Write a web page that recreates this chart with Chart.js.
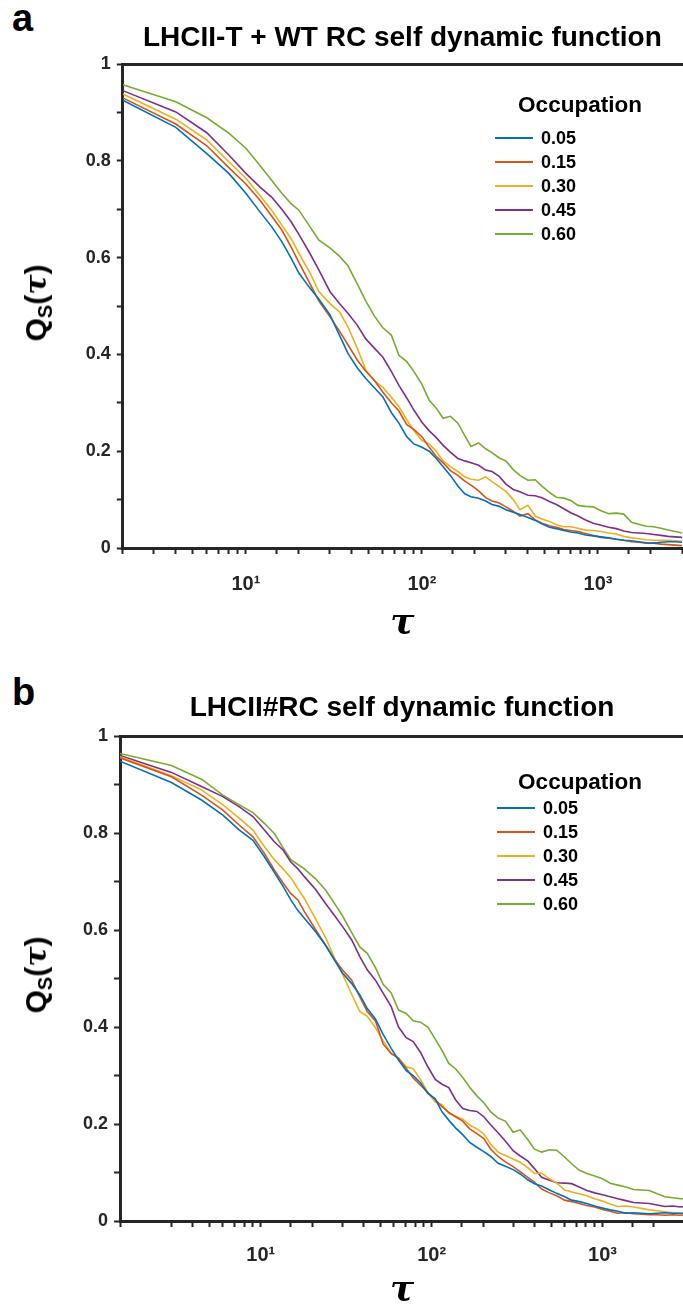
<!DOCTYPE html>
<html>
<head>
<meta charset="utf-8">
<script src="https://cdn.jsdelivr.net/npm/chart.js@4.4.1/dist/chart.umd.min.js"></script>
<style>
  html, body { margin: 0; padding: 0; background: #fff; width: 683px; height: 1310px; overflow: hidden; }
  body { position: relative; font-family: "Liberation Sans", Arial, sans-serif; color: #000; }
  .panel { position: absolute; left: 0; width: 700px; height: 655px; }
  .letter { position: absolute; left: 12px; font-size: 38px; font-weight: bold; line-height: 1; }
  .ylab { position: absolute; font-weight: bold; font-size: 30px; line-height: 1; white-space: nowrap;
          transform: translate(-50%, -50%) rotate(-90deg); }
  .ylab sub { font-size: 20px; vertical-align: -6px; }
  .ylab i { font-family: "DejaVu Serif", serif; font-weight: bold; }
  .legtitle { position: absolute; font-size: 22.5px; font-weight: bold; line-height: 1; transform: translate(-50%, -50%); }
  .legrow { position: absolute; font-size: 18px; font-weight: bold; line-height: 1; display: flex; align-items: center; }
  .legrow span.ln { display: inline-block; width: 38px; height: 0; border-top: 2px solid; margin-right: 8px; }
</style>
</head>
<body>
<div class="letter" style="top:-1px">a</div>
<div class="letter" style="top:673px">b</div>
<canvas id="chartA" class="panel" style="top:0" width="700" height="655"></canvas>
<canvas id="chartB" class="panel" style="top:655px" width="700" height="655"></canvas>
<div class="ylab" style="left:38px;top:303px">Q<sub>S</sub>(<i>τ</i>)</div>
<div class="ylab" style="left:38px;top:975px">Q<sub>S</sub>(<i>τ</i>)</div>
<div id="legendA"></div>
<div id="legendB"></div>

<script>
// ---- data ----
const occupations = ["0.05", "0.15", "0.30", "0.45", "0.60"];
const lineColors = ["#0072BD", "#D95319", "#EDB120", "#7E2F8E", "#77AC30"];
const yTickText = ["0", "0.2", "0.4", "0.6", "0.8", "1"];
const decadeValues = [10, 100, 1000];
const decadeLabels = ["10\u00B9", "10\u00B2", "10\u00B3"];

// panel a: LHCII-T + WT RC
const tauA = [2,4,6,8,10,12,14,16,18,20, 23,26,30,34,38,43,48,54,60,67,
  74,82,90,100,110,120,132,145,160,175, 190,210,230,250,275,300,330,360,400,440,
  480,530,580,640,700,770,850,940,1040,1150, 1270,1400,1550,1700,1880,2070,2280,2500,2750,3000];
const a005 = [0.925,0.869,0.815,0.774,0.733,0.695,0.664,0.633,0.600,0.568,
  0.538,0.514,0.482,0.440,0.402,0.372,0.350,0.330,0.312,0.280,
  0.258,0.230,0.215,0.208,0.200,0.186,0.168,0.150,0.128,0.112,
  0.106,0.103,0.097,0.090,0.086,0.079,0.074,0.069,0.063,0.057,
  0.050,0.043,0.040,0.036,0.033,0.031,0.027,0.025,0.023,0.021,
  0.018,0.016,0.015,0.013,0.011,0.010,0.012,0.013,0.013,0.012];
const a015 = [0.930,0.876,0.831,0.786,0.752,0.719,0.686,0.657,0.623,0.590,
  0.548,0.510,0.478,0.448,0.420,0.388,0.365,0.345,0.322,0.300,
  0.283,0.255,0.245,0.230,0.208,0.190,0.176,0.160,0.150,0.138,
  0.130,0.118,0.104,0.097,0.093,0.085,0.076,0.066,0.071,0.058,
  0.051,0.046,0.043,0.038,0.036,0.034,0.030,0.026,0.022,0.020,
  0.018,0.016,0.013,0.012,0.010,0.010,0.008,0.007,0.006,0.005];
const a030 = [0.938,0.886,0.843,0.798,0.764,0.729,0.698,0.667,0.640,0.609,
  0.570,0.530,0.505,0.488,0.457,0.412,0.368,0.345,0.332,0.312,
  0.292,0.265,0.242,0.222,0.215,0.201,0.180,0.168,0.158,0.147,
  0.142,0.140,0.147,0.137,0.127,0.117,0.100,0.079,0.088,0.066,
  0.060,0.055,0.048,0.044,0.044,0.041,0.037,0.036,0.034,0.031,
  0.029,0.024,0.021,0.019,0.017,0.016,0.016,0.016,0.015,0.014];
const a045 = [0.945,0.901,0.858,0.812,0.774,0.746,0.725,0.700,0.675,0.648,
  0.610,0.574,0.530,0.505,0.485,0.460,0.432,0.412,0.394,0.365,
  0.336,0.310,0.285,0.260,0.242,0.229,0.212,0.198,0.185,0.180,
  0.176,0.171,0.161,0.158,0.148,0.132,0.121,0.116,0.109,0.108,
  0.104,0.096,0.090,0.081,0.073,0.066,0.058,0.051,0.047,0.043,
  0.040,0.035,0.032,0.031,0.030,0.028,0.026,0.024,0.023,0.022];
const a060 = [0.957,0.922,0.889,0.857,0.826,0.791,0.760,0.733,0.712,0.698,
  0.665,0.636,0.620,0.603,0.583,0.545,0.510,0.478,0.455,0.440,
  0.398,0.385,0.365,0.338,0.305,0.290,0.268,0.272,0.258,0.232,
  0.210,0.217,0.205,0.197,0.186,0.180,0.162,0.150,0.140,0.141,
  0.128,0.115,0.105,0.103,0.098,0.088,0.086,0.085,0.077,0.071,
  0.072,0.070,0.053,0.049,0.045,0.044,0.041,0.037,0.034,0.031];

// panel b: LHCII#RC
const tauB = [1.5,3,4.5,6,7.5,9,10.5,12,13.5,15, 16.5,18,21,24,27,30,34,38,42,47,
  52,58,64,71,78,86,95,105,115,126, 138,152,167,184,202,222,245,270,300,330,
  365,400,440,490,540,600,660,730,810,900, 1000,1110,1230,1370,1520,1690,1880,2090,2320,2580,
  2860,3000];
const b005 = [0.948,0.904,0.868,0.837,0.806,0.785,0.751,0.719,0.690,0.662,
  0.640,0.624,0.596,0.568,0.538,0.512,0.490,0.466,0.438,0.416,
  0.385,0.356,0.332,0.310,0.300,0.285,0.263,0.252,0.225,0.208,
  0.192,0.178,0.162,0.152,0.143,0.133,0.119,0.113,0.106,0.097,
  0.085,0.077,0.072,0.064,0.057,0.050,0.043,0.040,0.036,0.031,
  0.027,0.023,0.020,0.016,0.017,0.016,0.015,0.016,0.017,0.016,
  0.016,0.016];
const b015 = [0.955,0.916,0.878,0.847,0.816,0.792,0.758,0.724,0.697,0.675,
  0.662,0.638,0.600,0.568,0.540,0.518,0.497,0.462,0.432,0.412,
  0.365,0.345,0.336,0.315,0.295,0.280,0.265,0.250,0.236,0.224,
  0.215,0.206,0.190,0.180,0.170,0.148,0.133,0.122,0.112,0.102,
  0.090,0.080,0.066,0.058,0.052,0.043,0.040,0.036,0.032,0.029,
  0.024,0.020,0.016,0.017,0.015,0.014,0.013,0.013,0.012,0.013,
  0.012,0.013];
const b030 = [0.957,0.918,0.889,0.858,0.830,0.806,0.772,0.745,0.726,0.708,
  0.685,0.665,0.622,0.584,0.542,0.510,0.468,0.432,0.422,0.398,
  0.372,0.346,0.335,0.318,0.314,0.292,0.265,0.245,0.240,0.222,
  0.216,0.210,0.198,0.190,0.180,0.158,0.142,0.135,0.128,0.121,
  0.110,0.098,0.099,0.087,0.078,0.064,0.060,0.056,0.052,0.046,
  0.041,0.035,0.030,0.031,0.029,0.026,0.023,0.021,0.019,0.017,
  0.016,0.015];
const b045 = [0.960,0.925,0.896,0.875,0.854,0.834,0.806,0.782,0.765,0.740,
  0.726,0.710,0.683,0.654,0.630,0.608,0.580,0.545,0.518,0.496,
  0.470,0.442,0.400,0.378,0.370,0.348,0.318,0.292,0.282,0.275,
  0.250,0.232,0.228,0.226,0.215,0.198,0.182,0.165,0.145,0.134,
  0.124,0.108,0.090,0.084,0.079,0.078,0.077,0.070,0.063,0.058,
  0.054,0.050,0.046,0.042,0.038,0.037,0.036,0.033,0.030,0.031,
  0.029,0.030];
const b060 = [0.964,0.939,0.911,0.878,0.858,0.842,0.820,0.799,0.770,0.745,
  0.735,0.726,0.705,0.682,0.655,0.630,0.595,0.565,0.552,0.522,
  0.488,0.470,0.435,0.428,0.413,0.410,0.400,0.375,0.352,0.325,
  0.314,0.296,0.276,0.258,0.244,0.225,0.212,0.206,0.183,0.188,
  0.168,0.148,0.142,0.147,0.146,0.132,0.118,0.105,0.098,0.093,
  0.087,0.078,0.074,0.070,0.065,0.064,0.063,0.056,0.050,0.048,
  0.046,0.046];

const axisColor = "#262626";
const sansFont = "'Liberation Sans', Arial, sans-serif";

function makeDatasets(tau, series) {
  return series.map((vals, i) => ({
    label: occupations[i],
    data: tau.map((t, j) => ({ x: t, y: vals[j] })),
    borderColor: lineColors[i],
    borderWidth: 1.6,
    pointRadius: 0,
    tension: 0,
    fill: false
  }));
}

function xLabel(v) {
  const i = decadeValues.findIndex(d => Math.abs(v - d) < d * 1e-6);
  return i >= 0 ? decadeLabels[i] : "";
}
function yLabel(v) {
  const k = Math.round(v * 10);
  return k % 2 === 0 ? yTickText[k / 2] : "";
}

function makeChart(id, tau, series, o) {
  const ctx = document.getElementById(id).getContext("2d");
  return new Chart(ctx, {
    type: "line",
    data: { datasets: makeDatasets(tau, series) },
    options: {
      responsive: false,
      animation: false,
      layout: { padding: { left: 0, right: o.padRight, top: 0, bottom: 0 } },
      plugins: {
        legend: { display: false },
        tooltip: { enabled: false },
        title: {
          display: true, text: o.title, fullSize: false, color: "#000",
          font: { family: sansFont, size: 28, weight: "bold", lineHeight: 1.2 },
          padding: { top: o.titleTop, bottom: 0 }
        }
      },
      scales: {
        x: {
          type: "logarithmic", position: "bottom", min: o.xMin, max: 3000,
          afterFit: s => { s.height = o.xHeight; },
          border: { display: true, color: axisColor, width: 3 },
          grid: { drawOnChartArea: false, drawTicks: true, tickLength: 6, tickWidth: 2, tickColor: axisColor },
          ticks: { autoSkip: false, maxRotation: 0, padding: o.xPad, color: axisColor,
                   font: { family: sansFont, size: 20, weight: "bold" }, callback: xLabel },
          title: { display: true, text: "τ", color: "#000",
                   font: { family: "'DejaVu Serif', serif", size: 36, style: "italic", weight: "bold", lineHeight: 1 },
                   padding: { top: 0, bottom: o.tauPad } }
        },
        xTop: {
          type: "logarithmic", position: "top", min: o.xMin, max: 3000,
          afterFit: s => { s.height = o.topH; },
          border: { display: true, color: axisColor, width: 3 },
          grid: { drawOnChartArea: false, drawTicks: false },
          ticks: { display: false }
        },
        y: {
          min: 0, max: 1,
          afterFit: s => { s.width = o.yWidth; },
          border: { display: true, color: axisColor, width: 3 },
          grid: { drawOnChartArea: false, drawTicks: true, tickLength: 6, tickWidth: 2, tickColor: axisColor },
          ticks: { stepSize: 0.1, autoSkip: false, padding: 6, color: axisColor,
                   font: { family: sansFont, size: 18, weight: "bold" }, callback: yLabel }
        }
      }
    }
  });
}

makeChart("chartA", tauA, [a005, a015, a030, a045, a060], {
  title: "LHCII-T + WT RC self dynamic function",
  xMin: 2, yWidth: 122.8, xHeight: 107, padRight: 10, titleTop: 21.7, topH: 8.7, tauPad: 13, xPad: 18
});
makeChart("chartB", tauB, [b005, b015, b030, b045, b060], {
  title: "LHCII#RC self dynamic function",
  xMin: 1.5, yWidth: 120, xHeight: 89, padRight: 12.5, titleTop: 36.7, topH: 10.7, tauPad: 1, xPad: 16
});

// legends (HTML, built from the same arrays)
function buildLegend(el, titleX, titleY, lineX, rowY0, rowGap) {
  let html = `<div class="legtitle" style="left:${titleX}px;top:${titleY}px">Occupation</div>`;
  occupations.forEach((occ, i) => {
    html += `<div class="legrow" style="left:${lineX}px;top:${rowY0 + i * rowGap - 9}px">` +
            `<span class="ln" style="border-color:${lineColors[i]}"></span>${occ}</div>`;
  });
  document.getElementById(el).innerHTML = html;
}
buildLegend("legendA", 580, 105, 495, 138, 24);
buildLegend("legendB", 580, 782, 497, 808, 24);
</script>
</body>
</html>
